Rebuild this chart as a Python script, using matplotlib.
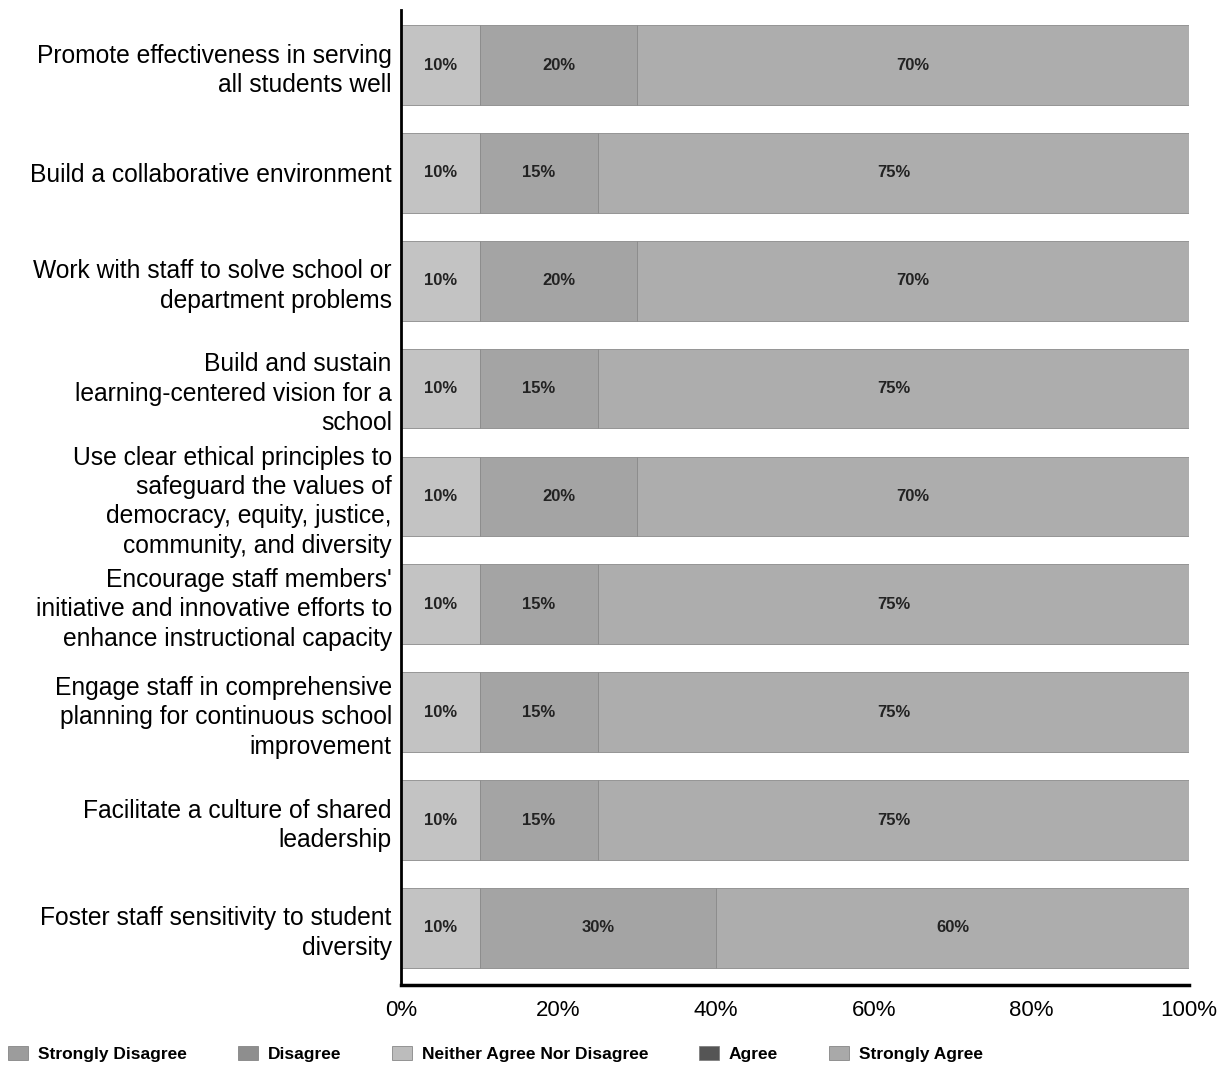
import matplotlib
matplotlib.use("Agg")
import matplotlib.pyplot as plt
from matplotlib.patches import Patch
from matplotlib.ticker import FuncFormatter

plt.rcParams['font.family'] = ['Liberation Sans', 'DejaVu Sans']

categories = [
    "Promote effectiveness in serving\nall students well",
    "Build a collaborative environment",
    "Work with staff to solve school or\ndepartment problems",
    "Build and sustain\nlearning-centered vision for a\nschool",
    "Use clear ethical principles to\nsafeguard the values of\ndemocracy, equity, justice,\ncommunity, and diversity",
    "Encourage staff members'\ninitiative and innovative efforts to\nenhance instructional capacity",
    "Engage staff in comprehensive\nplanning for continuous school\nimprovement",
    "Facilitate a culture of shared\nleadership",
    "Foster staff sensitivity to student\ndiversity",
]
series_names = ["Strongly Disagree", "Disagree", "Neither Agree Nor Disagree",
                "Agree", "Strongly Agree"]
strongly_disagree = [0, 0, 0, 0, 0, 0, 0, 0, 0]
disagree = [0, 0, 0, 0, 0, 0, 0, 0, 0]
neither = [10, 10, 10, 10, 10, 10, 10, 10, 10]
agree = [20, 15, 20, 15, 20, 15, 15, 15, 30]
strongly_agree = [70, 75, 70, 75, 70, 75, 75, 75, 60]
x_ticks = [0, 20, 40, 60, 80, 100]

series = [strongly_disagree, disagree, neither, agree, strongly_agree]
bar_colors = ["#9a9a9a", "#8c8c8c", "#c3c3c3", "#a4a4a4", "#adadad"]
legend_colors = ["#9c9c9c", "#8e8e8e", "#bcbcbc", "#555555", "#a9a9a9"]

fig = plt.figure(figsize=(12.26, 10.65), dpi=100)
ax = fig.add_axes([0.327, 0.0751, 0.643, 0.9155])

ypos = list(range(len(categories)))
left = [0] * len(categories)
for vals, col in zip(series, bar_colors):
    ax.barh(ypos, vals, left=left, height=0.74, color=col,
            edgecolor="#8a8a8a", linewidth=0.6)
    for y, v, l in zip(ypos, vals, left):
        if v > 0:
            ax.text(l + v / 2, y, f"{v}%", ha="center", va="center",
                    fontsize=12, fontweight="bold", color="#222222")
    left = [a + b for a, b in zip(left, vals)]

ax.set_ylim(len(categories) - 0.5 + 0.03, -0.51)
ax.set_xlim(0, 100)
ax.set_yticks(ypos)
ax.set_yticklabels(categories, fontsize=17.7, linespacing=1.28)
ax.set_xticks(x_ticks)
ax.xaxis.set_major_formatter(FuncFormatter(lambda v, p: f"{int(v)}%"))
ax.tick_params(axis="x", length=0, labelsize=16, pad=11)
ax.tick_params(axis="y", length=0, pad=6.5)
for s in ["top", "right"]:
    ax.spines[s].set_visible(False)
ax.spines["left"].set_linewidth(2)
ax.spines["bottom"].set_linewidth(2.5)

handles = [Patch(facecolor=c, edgecolor="#777777", linewidth=0.5)
           for c in legend_colors]
fig.legend(handles, series_names, loc="lower left", bbox_to_anchor=(-0.006, -0.012),
           ncol=5, frameon=False, handlelength=1.15, handleheight=0.9,
           handletextpad=0.55, columnspacing=2.95,
           prop={"size": 12.5, "weight": "bold"})

fig.savefig("out.png", dpi=100)
